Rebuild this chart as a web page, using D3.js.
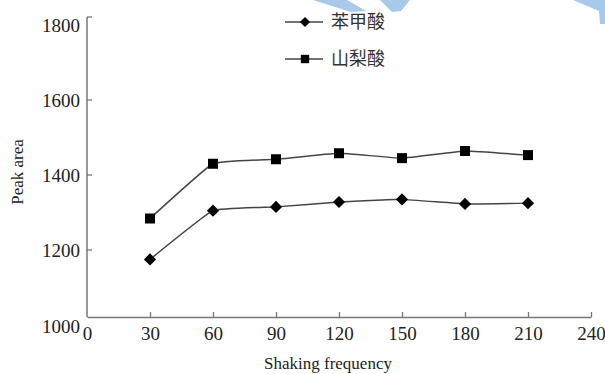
<!DOCTYPE html>
<html>
<head>
<meta charset="utf-8">
<script src="https://cdn.jsdelivr.net/npm/d3@7.9.0/dist/d3.min.js"></script>
<style>
  body { margin: 0; background: #fff; }
  svg { display: block; }
  .title { font-family: "Liberation Serif", "DejaVu Serif", serif; font-size: 17px; fill: #222; }
  .legend text { font-family: "Noto Sans CJK SC", sans-serif; font-size: 18px; fill: #333; }
</style>
</head>
<body>
<div id="chart"></div>
<script>
const frequency = [30, 60, 90, 120, 150, 180, 210];
const benzoic = [1175, 1305, 1315, 1328, 1335, 1323, 1325];
const sorbic = [1284, 1430, 1442, 1458, 1445, 1464, 1453];
const seriesNames = ['苯甲酸', '山梨酸'];
const xTicks = [0, 30, 60, 90, 120, 150, 180, 210, 240];
const yTicks = [1000, 1200, 1400, 1600, 1800];

const width = 605, height = 374;
const axisColor = '#777';
const lineColor = '#444';
const serif = '"Liberation Serif", "DejaVu Serif", serif';

const svg = d3.select('#chart').append('svg')
  .attr('width', width)
  .attr('height', height);

// faint blue watermark fragments along the top edge
const marks = [
  [[313, 0], [347, 0], [366, 11], [351, 12]],
  [[380, 0], [410, 0], [401, 11], [392, 12]],
  [[573, 0], [605, 0], [605, 24], [600, 24], [599, 11]]
];
svg.append('g').selectAll('polygon')
  .data(marks)
  .join('polygon')
  .attr('points', d => d.map(p => p.join(',')).join(' '))
  .attr('fill', '#a9c9ea');

const xScale = d3.scaleLinear().domain([0, 240]).range([87, 591]);
const yScale = d3.scaleLinear().domain([1000, 1800]).range([325, 25]);
const shift = 8; // axis frame sits a little above the labelled values
const axisY = yScale(1000) - shift;
const axisTop = yScale(1800) - shift;

function styleText(g) {
  g.attr('font-family', serif).attr('font-size', 19);
  g.selectAll('text').attr('fill', '#222');
}

// y axis
const yAxis = svg.append('g').attr('transform', `translate(${xScale(0)},0)`);
yAxis.call(d3.axisLeft(yScale).tickValues(yTicks).tickFormat(d3.format('d')).tickSize(0).tickPadding(7))
  .call(styleText);
yAxis.select('.domain').remove();
yAxis.selectAll('.tick').filter(d => d === 1000).select('text').attr('dy', '0.4em');
yAxis.append('line')
  .attr('x1', 0).attr('x2', 0)
  .attr('y1', axisTop).attr('y2', axisY)
  .attr('stroke', axisColor).attr('stroke-width', 1.5);
yAxis.selectAll('.minor')
  .data(yTicks.filter(d => d > 1000 && d < 1800))
  .join('line')
  .attr('x1', 0).attr('x2', 5)
  .attr('y1', d => yScale(d)).attr('y2', d => yScale(d))
  .attr('stroke', axisColor).attr('stroke-width', 1.3);
yAxis.append('line')
  .attr('x1', 0).attr('x2', 5)
  .attr('y1', axisTop).attr('y2', axisTop)
  .attr('stroke', axisColor).attr('stroke-width', 1.3);

// x axis
const xAxis = svg.append('g').attr('transform', `translate(0,${axisY})`);
xAxis.call(d3.axisBottom(xScale).tickValues(xTicks).tickSizeInner(-5).tickSizeOuter(0).tickPadding(10))
  .call(styleText);
xAxis.select('.domain').attr('stroke', axisColor).attr('stroke-width', 1.5);
xAxis.selectAll('.tick line').attr('stroke', axisColor).attr('stroke-width', 1.3)
  .filter(d => d === 0).remove();

svg.append('text').attr('class', 'title')
  .attr('x', 328).attr('y', 369)
  .attr('text-anchor', 'middle')
  .text('Shaking frequency');

svg.append('text').attr('class', 'title')
  .attr('transform', 'translate(23,172) rotate(-90)')
  .attr('text-anchor', 'middle')
  .text('Peak area');

// lines
const line = d3.line()
  .x(d => xScale(d[0]))
  .y(d => yScale(d[1]))
  .curve(d3.curveCardinal.tension(0.7));

const series = [benzoic, sorbic].map(vals => frequency.map((f, i) => [f, vals[i]]));
const symbols = [d3.symbolDiamond2, d3.symbolSquare];
const symbolSizes = [95, 100];

series.forEach((pts, k) => {
  svg.append('path')
    .datum(pts)
    .attr('fill', 'none')
    .attr('stroke', lineColor)
    .attr('stroke-width', 1.5)
    .attr('d', line);
  svg.append('g').selectAll('path')
    .data(pts)
    .join('path')
    .attr('transform', d => `translate(${xScale(d[0])},${yScale(d[1])})`)
    .attr('d', d3.symbol(symbols[k], symbolSizes[k]))
    .attr('fill', '#000');
});

// legend
const legend = svg.append('g').attr('class', 'legend');
const rows = legend.selectAll('g')
  .data(seriesNames)
  .join('g')
  .attr('transform', (d, i) => `translate(285,${22 + i * 37})`);
rows.append('line')
  .attr('x1', 0).attr('x2', 38)
  .attr('stroke', lineColor).attr('stroke-width', 1.5);
rows.append('path')
  .attr('transform', 'translate(20,0)')
  .attr('d', (d, i) => d3.symbol(symbols[i], symbolSizes[i] * 0.7)());
rows.append('text')
  .attr('x', 46).attr('dy', '0.35em')
  .text(d => d);
</script>
</body>
</html>
